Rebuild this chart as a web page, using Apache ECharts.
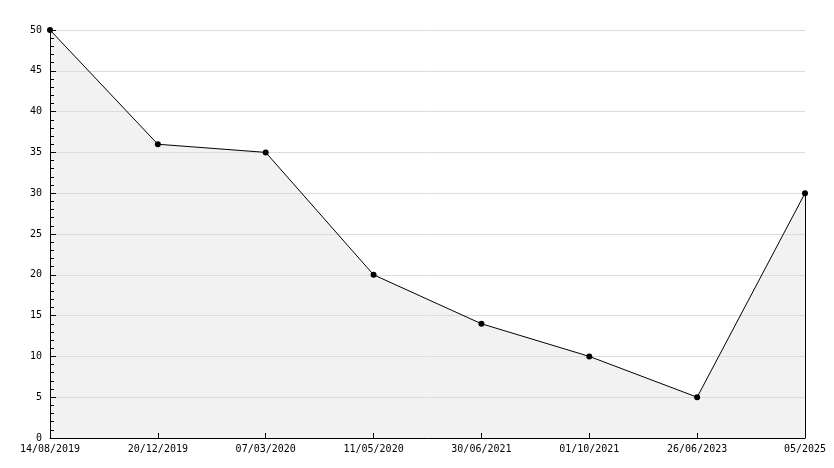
<!DOCTYPE html>
<html><head><meta charset="utf-8">
<script src="https://cdn.jsdelivr.net/npm/echarts@6/dist/echarts.min.js"></script>
<style>html,body{margin:0;padding:0;background:#fff}#c{width:834px;height:468px}</style>
</head><body><div id="c"></div>
<script>
const categories = ['14/08/2019','20/12/2019','07/03/2020','11/05/2020','30/06/2021','01/10/2021','26/06/2023','05/2025'];
const values = [50, 36, 35, 20, 14, 10, 5, 30];
const yMin = 0, yMax = 50, yStep = 5;
const font = 'DejaVu Sans Mono';
const chart = echarts.init(document.getElementById('c'));
const last = categories.length - 1;
chart.setOption({
  animation: false,
  backgroundColor: '#fff',
  grid: {left: 50, right: 29, top: 30, bottom: 30},
  xAxis: {
    type: 'category', data: categories, boundaryGap: false, z: 5,
    axisLine: {lineStyle: {color: '#000', width: 1}},
    axisTick: {inside: true, length: 5, lineStyle: {color: '#000'}},
    axisLabel: {color: '#000', fontFamily: font, fontSize: 10, margin: 6, interval: 0},
    splitLine: {show: false}
  },
  yAxis: {
    type: 'value', min: yMin, max: yMax, interval: yStep, z: 5,
    axisLine: {show: true, lineStyle: {color: '#000', width: 1}},
    axisTick: {show: true, inside: true, length: 6, lineStyle: {color: '#000'}},
    minorTick: {show: true, splitNumber: 5, length: 4, lineStyle: {color: '#000'}},
    axisLabel: {color: '#000', fontFamily: font, fontSize: 10, margin: 8},
    splitLine: {show: true, lineStyle: {color: '#dcdcdc', width: 1}}
  },
  series: [{
    type: 'line', data: values, z: 1,
    symbol: 'none',
    lineStyle: {width: 0},
    areaStyle: {color: '#f2f2f2', opacity: 1}
  }, {
    type: 'line', data: values, z: 10,
    symbol: 'circle', symbolSize: 6,
    itemStyle: {color: '#000'},
    lineStyle: {color: '#000', width: 1},
    markLine: {
      silent: true, symbol: 'none', label: {show: false},
      lineStyle: {color: '#000', width: 1, type: 'solid'},
      data: [[{coord: [last, yMin]}, {coord: [last, values[last]]}]]
    }
  }]
});
</script></body></html>
